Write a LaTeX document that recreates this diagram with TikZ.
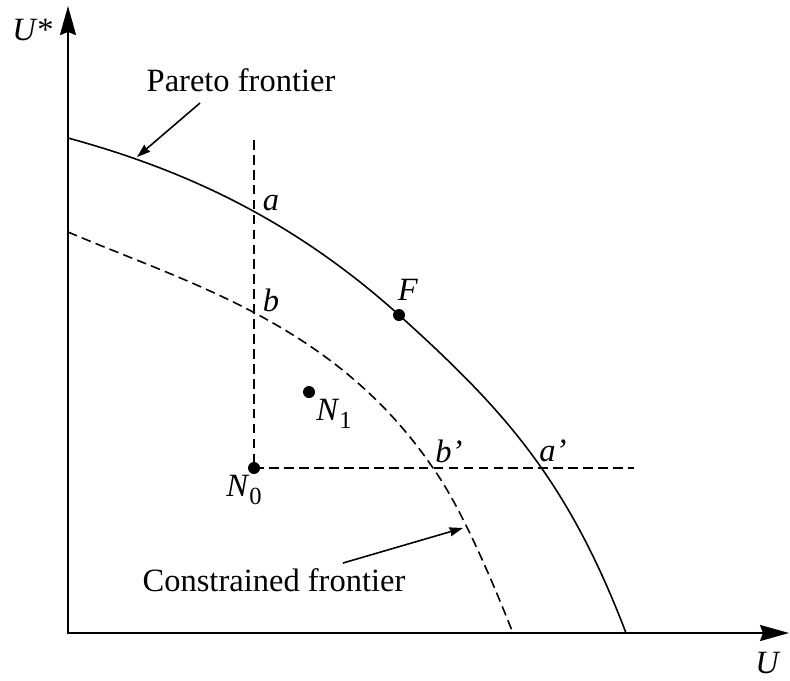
\documentclass[tikz,border=0pt]{standalone}
\usepackage{fontspec}
\setmainfont{Liberation Serif}
\usetikzlibrary{arrows.meta}
\begin{document}
\begin{tikzpicture}[x=0.02cm, y=-0.02cm, every node/.style={font=\fontsize{18.5}{22}\selectfont, inner sep=1pt},
    frontier/.style={line width=0.9pt},
    guide/.style={line width=0.9pt, dash pattern=on 5.5pt off 3pt},
    pointer/.style={line width=0.9pt, -{Stealth[length=0.27cm, width=0.18cm, inset=0.02cm]}},
    dot/.style={circle, fill, inner sep=0pt, minimum size=0.24cm}]
  \useasboundingbox (0,0) rectangle (790,680);
  % axes
  \coordinate (ytop) at (68,6); \coordinate (origin) at (68,633); \coordinate (xend) at (789,633);
  \draw[line width=1.2pt, {Stealth[length=0.58cm, width=0.32cm, inset=0.06cm]}-{Stealth[length=0.58cm, width=0.32cm, inset=0.06cm]}] (ytop) -- (origin) -- (xend);
  \node (ustar) at (33,30) {\textit{U}*};
  \node (u) at (768,663) {\textit{U}};
  % the two frontiers
  \draw[frontier] (68,138) .. controls (178,168) and (289,216) .. (399,315)
                            .. controls (502,408) and (567,478) .. (626,633);
  \draw[guide] (68,232) .. controls (190,284) and (335,324) .. (433,468)
                        .. controls (463,510) and (495,588) .. (513,633);
  % points
  \node[dot] (n0) at (254,468) {};
  \node[dot] (n1) at (309,392) {};
  \node[dot] (f) at (399,315) {};
  \coordinate (vtop) at (254,140); \coordinate (hend) at (634,468);
  \draw[guide] (vtop) -- (n0.center) -- (hend);
  \node (a) at (271,203) {\textit{a}};
  \node (b) at (271,300) {\textit{b}};
  \node (flab) at (408,290) {\textit{F}};
  \node (n1lab) at (334,414) {\textit{N}\raisebox{-0.5ex}{\fontsize{14}{16}\selectfont 1}};
  \node (n0lab) at (244,490) {\textit{N}\raisebox{-0.5ex}{\fontsize{14}{16}\selectfont 0}};
  \node (bp) at (449,451) {\textit{b'}};
  \node (ap) at (553,451) {\textit{a'}};
  % labels with pointers
  \node (pareto) at (241,80) {Pareto frontier};
  \coordinate (pareto tail) at (200,103); \coordinate (pareto tip) at (137,157);
  \draw[pointer] (pareto tail) -- (pareto tip);
  \node (constrained) at (274,580) {Constrained frontier};
  \coordinate (constr tail) at (343,563); \coordinate (constr tip) at (463,528);
  \draw[pointer] (constr tail) -- (constr tip);
\end{tikzpicture}
\end{document}
